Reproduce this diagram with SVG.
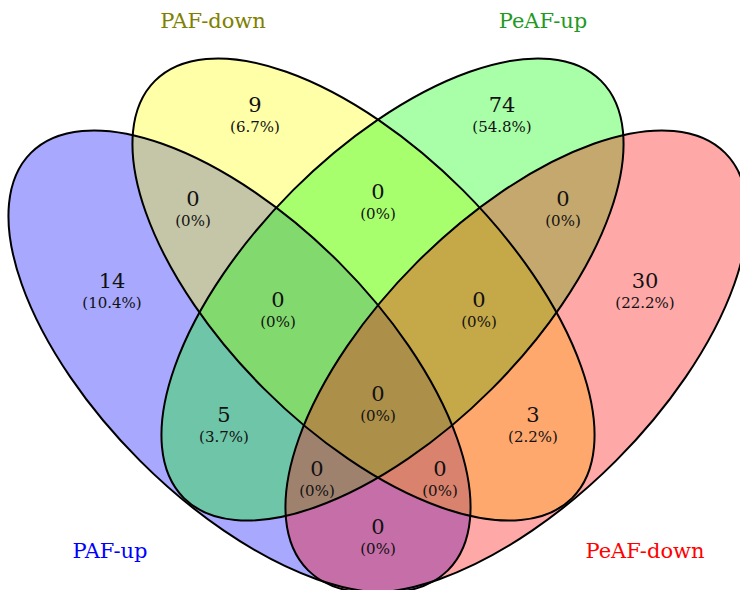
<svg xmlns="http://www.w3.org/2000/svg" width="740" height="590" viewBox="0 0 740 590">
<style>
.fill{stroke:none;fill-opacity:0.34}
.edge{fill:none;stroke:#000;stroke-width:2}
.n{font-family:"DejaVu Serif","Liberation Serif",serif;font-size:21px;text-anchor:middle;fill:#111}
.p{font-family:"DejaVu Serif","Liberation Serif",serif;font-size:15px;text-anchor:middle;fill:#111}
.lab{font-family:"DejaVu Serif","Liberation Serif",serif;font-size:21px;text-anchor:middle}
</style>
<defs>
<ellipse id="e-pafup" cx="239.5" cy="361.5" rx="295" ry="140.5" transform="rotate(45 239.5 361.5)"/>
<ellipse id="e-pafdown" cx="363.5" cy="289.5" rx="295" ry="140.5" transform="rotate(45 363.5 289.5)"/>
<ellipse id="e-peafup" cx="392.5" cy="289.5" rx="295" ry="140.5" transform="rotate(-45 392.5 289.5)"/>
<ellipse id="e-peafdown" cx="516.5" cy="361.5" rx="295" ry="140.5" transform="rotate(-45 516.5 361.5)"/>
</defs>
<rect width="740" height="590" fill="#fff"/>
<g id="set-PAF-up"><use href="#e-pafup" class="fill" fill="#0000ff"/></g>
<g id="set-PAF-down"><use href="#e-pafdown" class="fill" fill="#ffff00"/></g>
<g id="set-PeAF-up"><use href="#e-peafup" class="fill" fill="#00ff00"/></g>
<g id="set-PeAF-down"><use href="#e-peafdown" class="fill" fill="#ff0000"/></g>
<g id="outlines">
<use href="#e-pafup" class="edge"/>
<use href="#e-pafdown" class="edge"/>
<use href="#e-peafup" class="edge"/>
<use href="#e-peafdown" class="edge"/>
</g>
<g id="labels">
<text class="lab" x="213" y="28" fill="#808000">PAF-down</text>
<text class="lab" x="543" y="28" fill="#229922">PeAF-up</text>
<text class="lab" x="110" y="558" fill="#0000ff">PAF-up</text>
<text class="lab" x="645" y="558" fill="#ff0000">PeAF-down</text>
</g>
<g id="counts">
<text class="n" x="255" y="112">9</text><text class="p" x="255" y="132">(6.7%)</text>
<text class="n" x="502" y="112">74</text><text class="p" x="502" y="132">(54.8%)</text>
<text class="n" x="112" y="288">14</text><text class="p" x="112" y="308">(10.4%)</text>
<text class="n" x="645" y="288">30</text><text class="p" x="645" y="308">(22.2%)</text>
<text class="n" x="193" y="206">0</text><text class="p" x="193" y="226">(0%)</text>
<text class="n" x="378" y="199">0</text><text class="p" x="378" y="219">(0%)</text>
<text class="n" x="563" y="206">0</text><text class="p" x="563" y="226">(0%)</text>
<text class="n" x="278" y="307">0</text><text class="p" x="278" y="327">(0%)</text>
<text class="n" x="479" y="307">0</text><text class="p" x="479" y="327">(0%)</text>
<text class="n" x="378" y="401">0</text><text class="p" x="378" y="421">(0%)</text>
<text class="n" x="224" y="422">5</text><text class="p" x="224" y="442">(3.7%)</text>
<text class="n" x="533" y="422">3</text><text class="p" x="533" y="442">(2.2%)</text>
<text class="n" x="317" y="476">0</text><text class="p" x="317" y="496">(0%)</text>
<text class="n" x="440" y="476">0</text><text class="p" x="440" y="496">(0%)</text>
<text class="n" x="378" y="534">0</text><text class="p" x="378" y="554">(0%)</text>
</g>
</svg>
